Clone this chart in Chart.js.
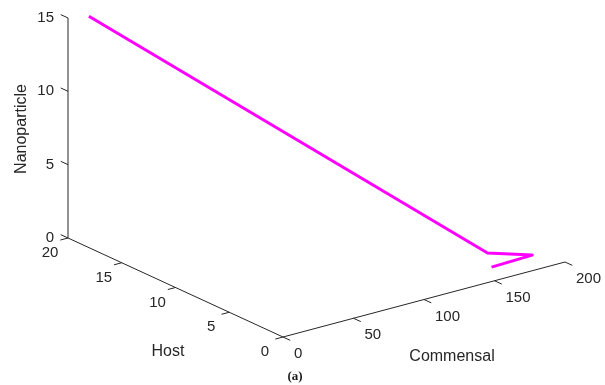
<!DOCTYPE html>
<html>
<head>
<meta charset="utf-8">
<script src="https://cdn.jsdelivr.net/npm/chart.js@4.4.0/dist/chart.umd.min.js"></script>
<style>
  html, body { margin: 0; padding: 0; background: #fff; }
  #chart { display: block; }
</style>
</head>
<body>
<canvas id="chart" width="605" height="385"></canvas>
<script>
// trajectory (commensal, host, nanoparticle)
const commensal = [11, 174, 192, 162];
const host = [19.5, 3.8, 2.0, 1.85];
const nanoparticle = [15, 0, 0, 0];

const commensalTicks = [0, 50, 100, 150, 200];
const hostTicks = [0, 5, 10, 15, 20];
const nanoTicks = [0, 5, 10, 15];

// 3d view: screen position of the origin and the step for one unit on each axis
const view = { ox: 283, oy: 337, c: [1.41, -0.375], h: [-10.75, -4.95], z: [0, -14.67] };

function project(c, h, z) {
  return {
    x: view.ox + c * view.c[0] + h * view.h[0] + z * view.z[0],
    y: view.oy + c * view.c[1] + h * view.h[1] + z * view.z[1]
  };
}

function unit(v) {
  const l = Math.hypot(v[0], v[1]);
  return [v[0] / l, v[1] / l];
}

const points = commensal.map((c, i) => project(c, host[i], nanoparticle[i]));

const axes3d = {
  id: "axes3d",
  beforeDatasetsDraw(chart) {
    const { ctx, scales } = chart;
    const px = (p) => [scales.x.getPixelForValue(p.x), scales.y.getPixelForValue(p.y)];
    const hMax = hostTicks[hostTicks.length - 1];
    const tickLen = 8;

    ctx.save();
    ctx.strokeStyle = "#262626";
    ctx.lineWidth = 1;
    ctx.fillStyle = "#262626";
    ctx.font = "15px 'Liberation Sans', Arial, sans-serif";

    const seg = (a, b) => {
      ctx.beginPath();
      ctx.moveTo(a[0], a[1]);
      ctx.lineTo(b[0], b[1]);
      ctx.stroke();
    };

    // commensal axis
    const cEnd = commensalTicks[commensalTicks.length - 1];
    seg(px(project(0, 0, 0)), px(project(cEnd, 0, 0)));
    const cDir = unit([-view.h[0], -view.h[1]]);
    ctx.textAlign = "left";
    ctx.textBaseline = "middle";
    commensalTicks.forEach((t) => {
      const p = px(project(t, 0, 0));
      seg(p, [p[0] + cDir[0] * tickLen, p[1] + cDir[1] * tickLen]);
      ctx.fillText(String(t), p[0] + 11, p[1] + 17);
    });

    // host axis
    seg(px(project(0, 0, 0)), px(project(0, hMax, 0)));
    const hDir = unit([-view.c[0], -view.c[1]]);
    ctx.textAlign = "center";
    hostTicks.forEach((t) => {
      const p = px(project(0, t, 0));
      seg(p, [p[0] + hDir[0] * tickLen, p[1] + hDir[1] * tickLen]);
      ctx.fillText(String(t), p[0] - 18, p[1] + 15);
    });

    // nanoparticle axis
    const zEnd = nanoTicks[nanoTicks.length - 1];
    seg(px(project(0, hMax, 0)), px(project(0, hMax, zEnd)));
    const zDir = unit(view.h);
    ctx.textAlign = "right";
    nanoTicks.forEach((t) => {
      const p = px(project(0, hMax, t));
      seg(p, [p[0] + zDir[0] * tickLen, p[1] + zDir[1] * tickLen]);
      ctx.fillText(String(t), p[0] - 14, p[1]);
    });

    // axis titles
    ctx.font = "16px 'Liberation Sans', Arial, sans-serif";
    ctx.textAlign = "center";
    ctx.fillText("Commensal", 452, 357);
    ctx.fillText("Host", 168, 352);
    ctx.save();
    ctx.translate(22, 129);
    ctx.rotate(-Math.PI / 2);
    ctx.fillText("Nanoparticle", 0, 0);
    ctx.restore();

    ctx.font = "bold 13px 'Liberation Serif', 'Times New Roman', serif";
    ctx.fillStyle = "#1a1a1a";
    ctx.fillText("(a)", 295, 377);
    ctx.restore();
  }
};

new Chart(document.getElementById("chart"), {
  type: "scatter",
  data: {
    datasets: [
      {
        data: points,
        showLine: true,
        borderColor: "#ff00ff",
        backgroundColor: "#ff00ff",
        borderWidth: 3,
        borderJoinStyle: "round",
        pointRadius: 0,
        tension: 0,
        fill: false
      }
    ]
  },
  options: {
    responsive: false,
    animation: false,
    layout: { padding: 0 },
    scales: {
      x: { type: "linear", min: 0, max: 605, display: false },
      y: { type: "linear", min: 0, max: 385, reverse: true, display: false }
    },
    plugins: {
      legend: { display: false },
      tooltip: { enabled: false }
    }
  },
  plugins: [axes3d]
});
</script>
</body>
</html>
